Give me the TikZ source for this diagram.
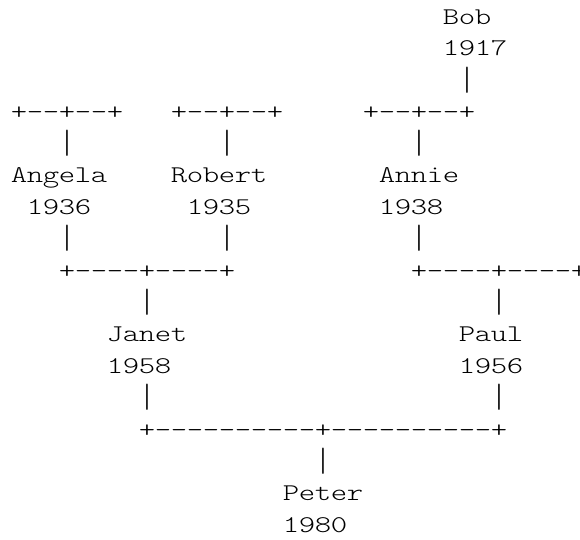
\documentclass[tikz,border=0pt]{standalone}
\usepackage{fontspec}
\usepackage{graphicx}
\newfontfamily\monofam[FakeStretch=1.3]{Latin Modern Mono Light}
\newcount\colcnt
\def\putrow#1#2#3{\colcnt=#1\relax\def\currow{#2}\putchars#3\relax}
\def\putchars#1{\ifx\relax#1\else\putone{#1}\advance\colcnt by 1\relax\expandafter\putchars\fi}
\def\putone#1{%
  \if|#1\def\glyph{\raisebox{-2.5pt}{\scalebox{1}[1.4]{|}}}\else\def\glyph{#1}\fi
  \edef\tmpcmd{\noexpand\node[ch] (r\currow c\the\colcnt) at ({19+16*\the\colcnt},{-(24.1+31.77*\currow)}) {\noexpand\glyph};}\tmpcmd}
\tikzset{ch/.style={anchor=base, inner sep=0pt, outer sep=0pt, font=\monofam\fontsize{24}{24}\selectfont, text=black}}
\begin{document}
\begin{tikzpicture}[x=1pt,y=1pt]
\useasboundingbox[fill=white] (0,0) rectangle (580,-539);
% Bob
\putrow{27}{0}{Bob}
\putrow{27}{1}{1917}
\putrow{28}{2}{|}
% row 3
\putrow{0}{3}{+--+--+}
\putrow{10}{3}{+--+--+}
\putrow{22}{3}{+--+--+}
% row 4
\putrow{3}{4}{|}
\putrow{13}{4}{|}
\putrow{25}{4}{|}
% row 5-6
\putrow{0}{5}{Angela}
\putrow{10}{5}{Robert}
\putrow{23}{5}{Annie}
\putrow{1}{6}{1936}
\putrow{11}{6}{1935}
\putrow{23}{6}{1938}
% row 7
\putrow{3}{7}{|}
\putrow{13}{7}{|}
\putrow{25}{7}{|}
% row 8
\putrow{3}{8}{+----+----+}
\putrow{25}{8}{+----+----+}
% row 9
\putrow{8}{9}{|}
\putrow{30}{9}{|}
% row 10-11
\putrow{6}{10}{Janet}
\putrow{28}{10}{Paul}
\putrow{6}{11}{1958}
\putrow{28}{11}{1956}
% row 12
\putrow{8}{12}{|}
\putrow{30}{12}{|}
% row 13
\putrow{8}{13}{+----------+----------+}
% row 14
\putrow{19}{14}{|}
% row 15-16
\putrow{17}{15}{Peter}
\putrow{17}{16}{1980}
\end{tikzpicture}
\end{document}
